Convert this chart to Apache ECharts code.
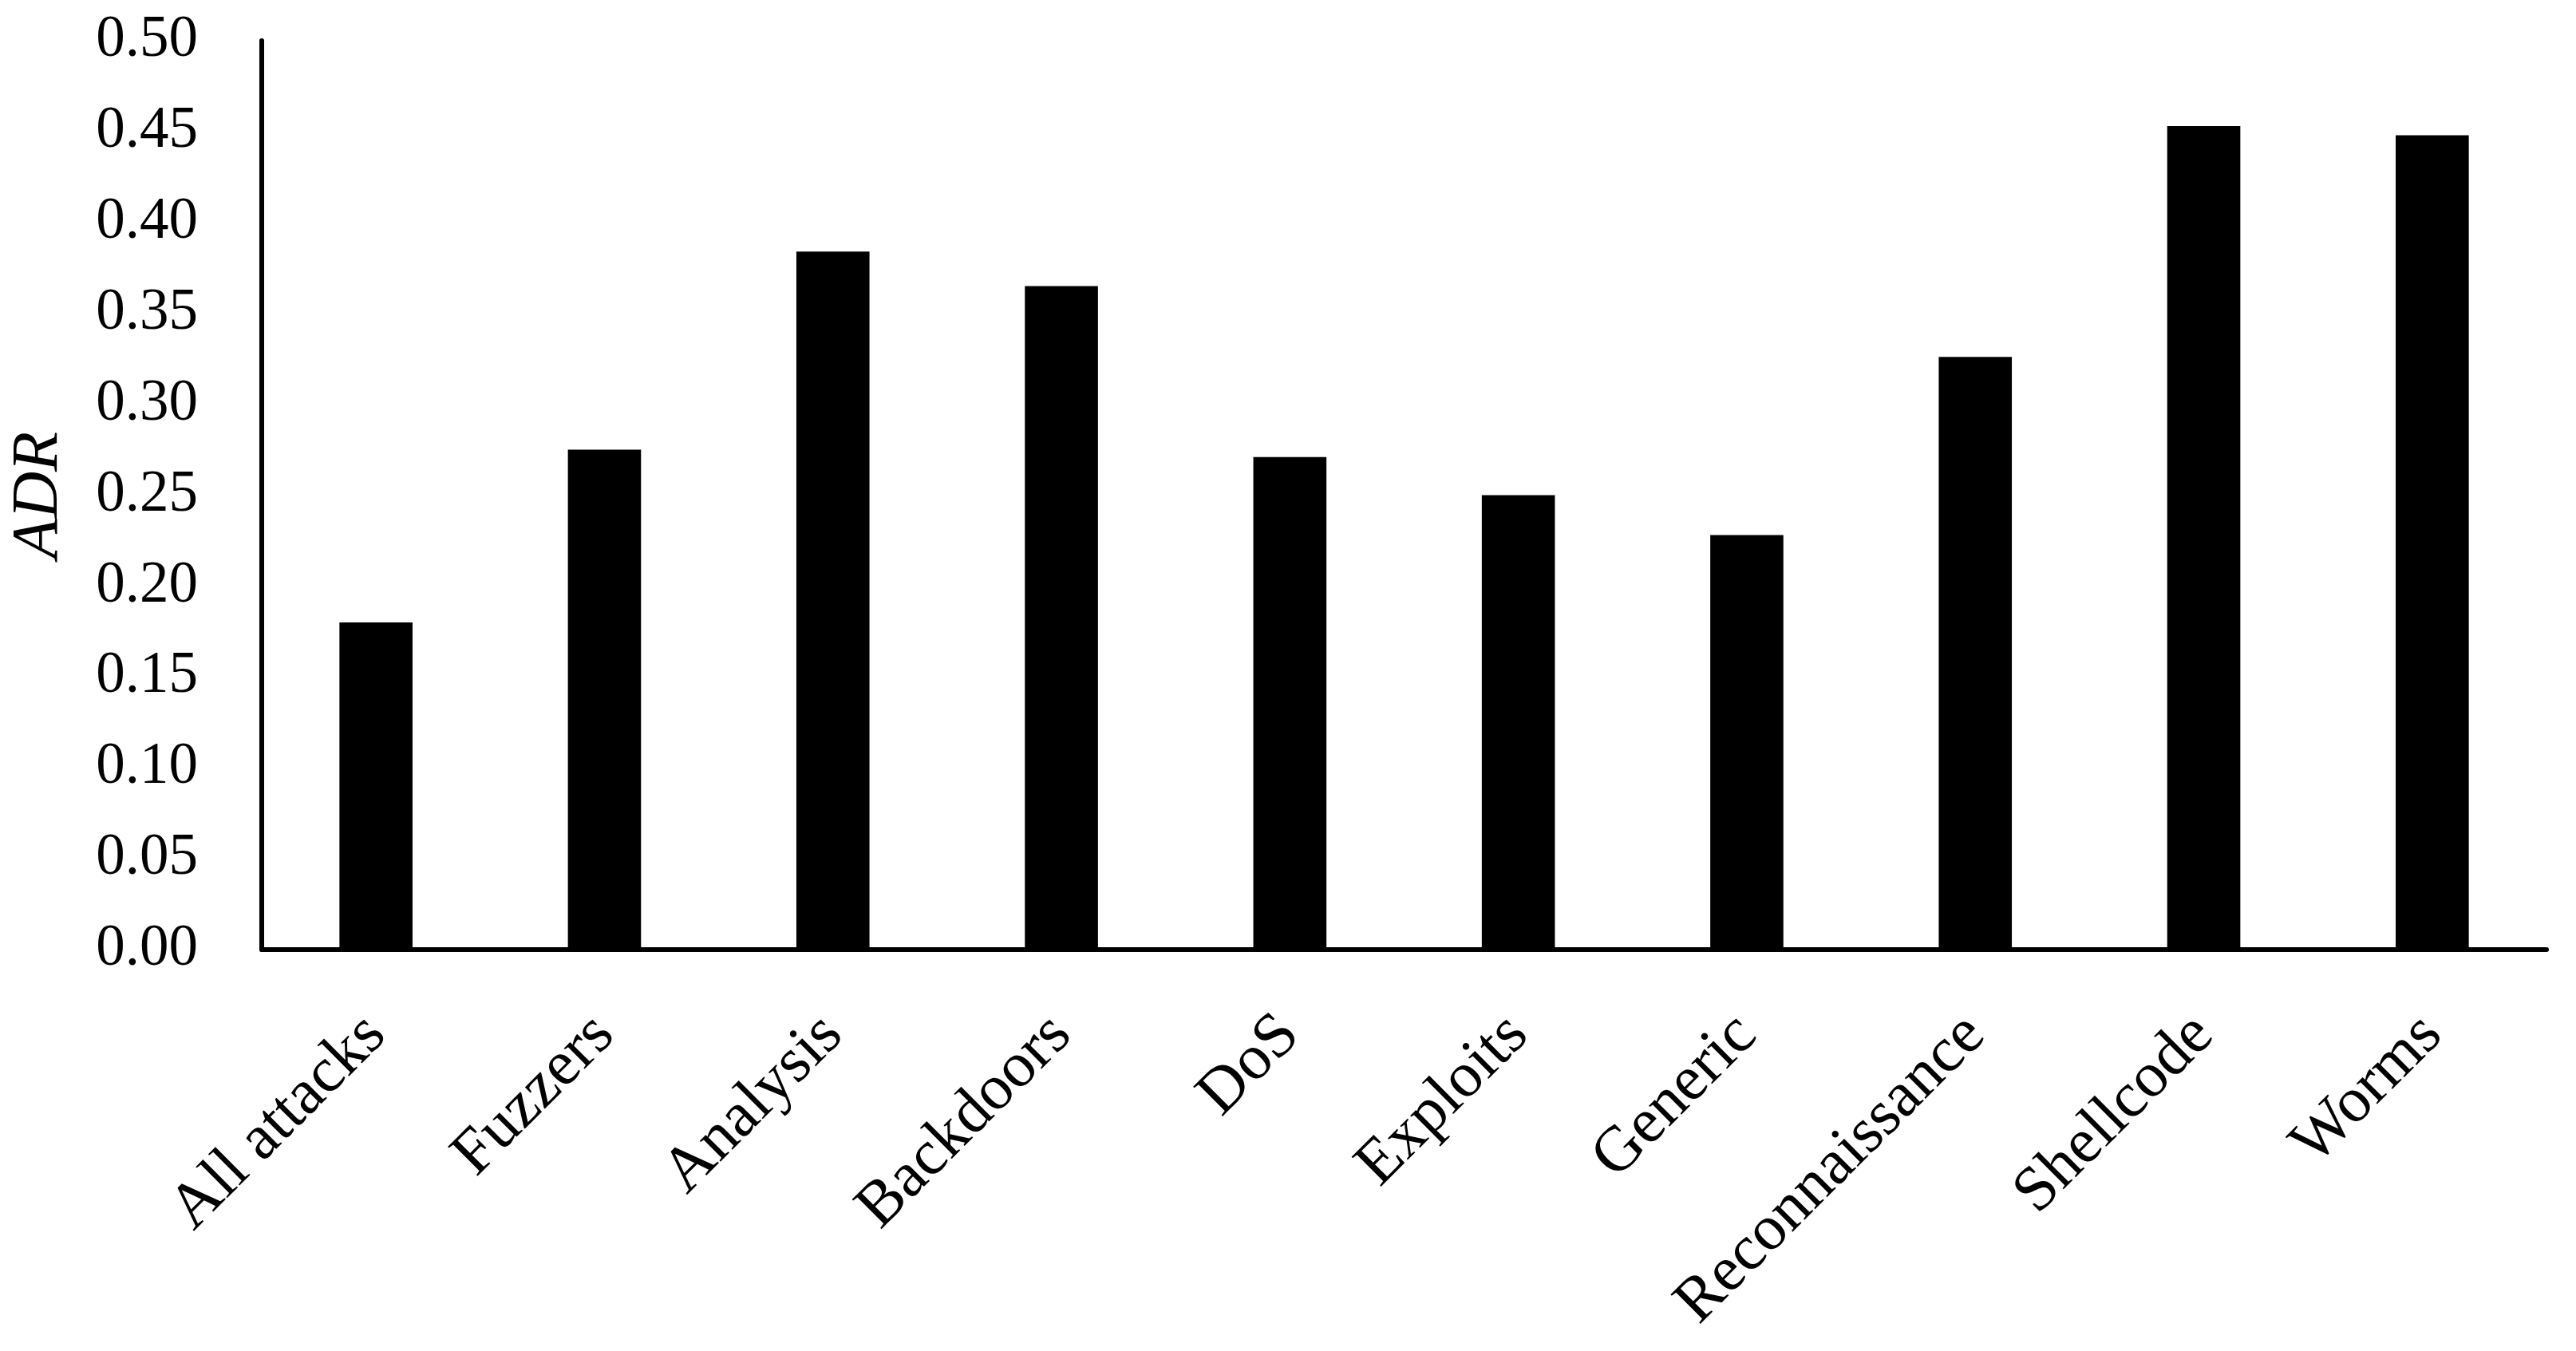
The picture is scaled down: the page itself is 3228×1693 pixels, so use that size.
<!DOCTYPE html>
<html>
<head>
<meta charset="utf-8">
<script src="https://cdn.jsdelivr.net/npm/echarts@6/dist/echarts.min.js"></script>
<style>
  html, body { margin: 0; padding: 0; background: #fff; }
  #chart { width: 3228px; height: 1693px; }
</style>
</head>
<body>
<div id="chart"></div>
<script>
// attack categories and ADR values
const categories = ['All attacks', 'Fuzzers', 'Analysis', 'Backdoors', 'DoS',
  'Exploits', 'Generic', 'Reconnaissance', 'Shellcode', 'Worms']
const adrValues = [0.180, 0.275, 0.384, 0.365, 0.271, 0.250, 0.228, 0.326, 0.453, 0.448]
const yTicks = { min: 0, max: 0.5, step: 0.05 }

const serif = '"Liberation Serif", "DejaVu Serif", serif'

const chart = echarts.init(document.getElementById('chart'))
chart.setOption({
  backgroundColor: '#fff',
  animation: false,
  grid: { left: 323, right: 37, top: 51, bottom: 503 },
  xAxis: {
    type: 'category',
    data: categories,
    axisTick: { show: false },
    axisLine: { lineStyle: { color: '#000', width: 6 } },
    axisLabel: {
      rotate: 45,
      margin: 95,
      color: '#000',
      fontFamily: serif,
      fontSize: 80,
      interval: 0
    }
  },
  yAxis: {
    type: 'value',
    min: yTicks.min,
    max: yTicks.max,
    interval: yTicks.step,
    name: 'ADR',
    nameLocation: 'middle',
    nameGap: 238,
    nameTextStyle: { fontFamily: serif, fontStyle: 'italic', fontSize: 82, color: '#000' },
    splitLine: { show: false },
    axisTick: { show: false },
    axisLine: { show: true, lineStyle: { color: '#000', width: 6 } },
    axisLabel: {
      margin: 80,
      color: '#000',
      fontFamily: serif,
      fontSize: 73,
      formatter: v => v.toFixed(2)
    }
  },
  series: [{
    type: 'bar',
    data: adrValues,
    barWidth: '32%',
    itemStyle: { color: '#000' }
  }]
})
</script>
</body>
</html>
